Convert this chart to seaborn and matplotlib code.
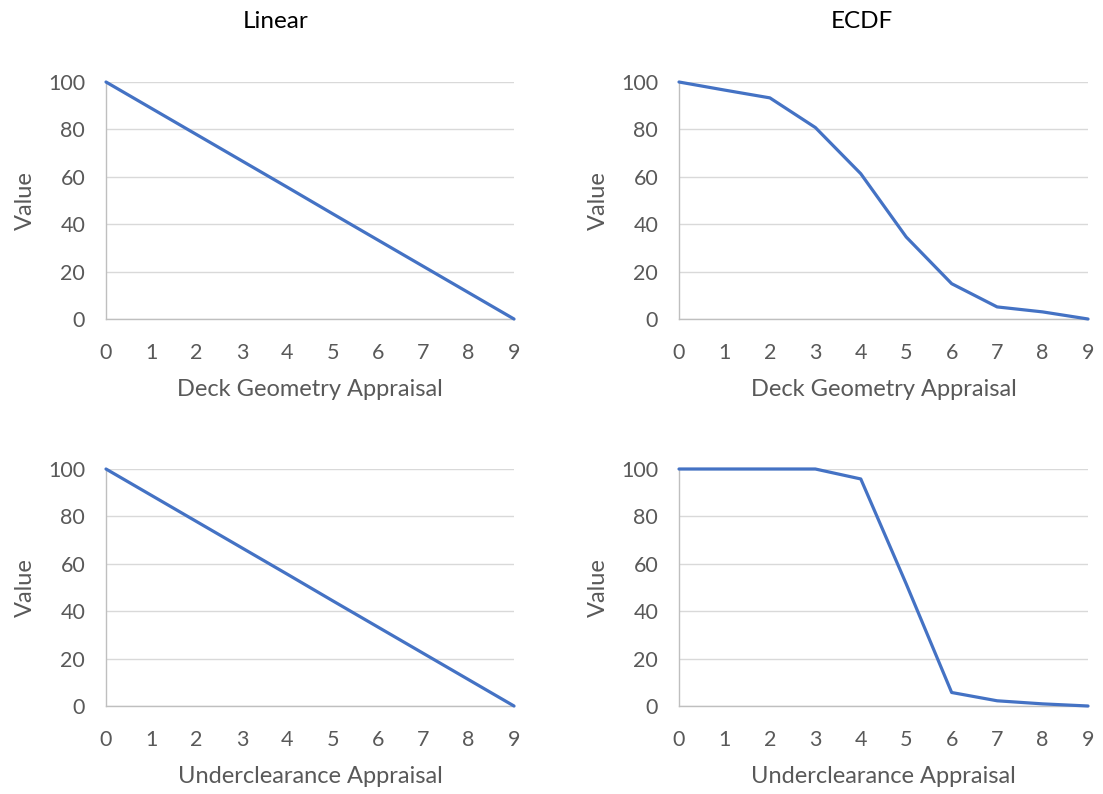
import matplotlib
matplotlib.use("Agg")
import matplotlib.pyplot as plt
import seaborn as sns
import pandas as pd

# ---- data ----
appraisal = [0, 1, 2, 3, 4, 5, 6, 7, 8, 9]
deck_linear = [100, 88.9, 77.8, 66.7, 55.6, 44.4, 33.3, 22.2, 11.1, 0]
deck_ecdf = [100, 96.6, 93.3, 80.8, 61.3, 34.6, 14.9, 5.1, 3.0, 0]
under_linear = [100, 88.9, 77.8, 66.7, 55.6, 44.4, 33.3, 22.2, 11.1, 0]
under_ecdf = [100, 100, 100, 100, 95.8, 51.5, 5.7, 2.2, 0.9, 0]
col_titles = ["Linear", "ECDF"]
x_labels = ["Deck Geometry Appraisal", "Underclearance Appraisal"]
y_label = "Value"
y_ticks = [0, 20, 40, 60, 80, 100]

sns.set_style("white")
plt.rcParams["font.family"] = ["Lato", "DejaVu Sans"]

W, H = 1103, 794
fig = plt.figure(figsize=(W / 100, H / 100), dpi=100)

LINE = "#4472C4"
TXT = "#595959"
GRID = "#D9D9D9"
SPINE = "#BFBFBF"

lefts = [106, 679]
rights = [514, 1088]
tops = [82, 469]
bottoms = [319, 706]

series = [[deck_linear, deck_ecdf], [under_linear, under_ecdf]]

for r in range(2):
    for c in range(2):
        ax = fig.add_axes([lefts[c] / W, 1 - bottoms[r] / H,
                           (rights[c] - lefts[c]) / W, (bottoms[r] - tops[r]) / H])
        df = pd.DataFrame({"x": appraisal, "y": series[r][c]})
        sns.lineplot(data=df, x="x", y="y", ax=ax, color=LINE, linewidth=2.3,
                     clip_on=False, zorder=3)
        ax.set_xlim(0, 9)
        ax.set_ylim(0, 100)
        ax.set_xticks(appraisal)
        ax.set_yticks(y_ticks)
        ax.yaxis.grid(True, color=GRID, linewidth=1.0)
        ax.set_axisbelow(True)
        for s in ["top", "right"]:
            ax.spines[s].set_visible(False)
        for s in ["left", "bottom"]:
            ax.spines[s].set_color(SPINE)
            ax.spines[s].set_linewidth(1.0)
        ax.tick_params(axis="both", colors=SPINE, labelcolor=TXT, labelsize=15.5,
                       length=4, width=1.0, direction="out")
        ax.tick_params(axis="x", pad=13)
        ax.tick_params(axis="y", pad=11)
        ax.set_xlabel(x_labels[r], color=TXT, fontsize=17, labelpad=12)
        ax.set_ylabel(y_label, color=TXT, fontsize=17, labelpad=9)

fig.text(276 / W, 1 - 22 / H, col_titles[0], ha="center", va="center",
         fontsize=17.5, color="#000000")
fig.text(862 / W, 1 - 22 / H, col_titles[1], ha="center", va="center",
         fontsize=17.5, color="#000000")

fig.savefig("out.png", dpi=100)
